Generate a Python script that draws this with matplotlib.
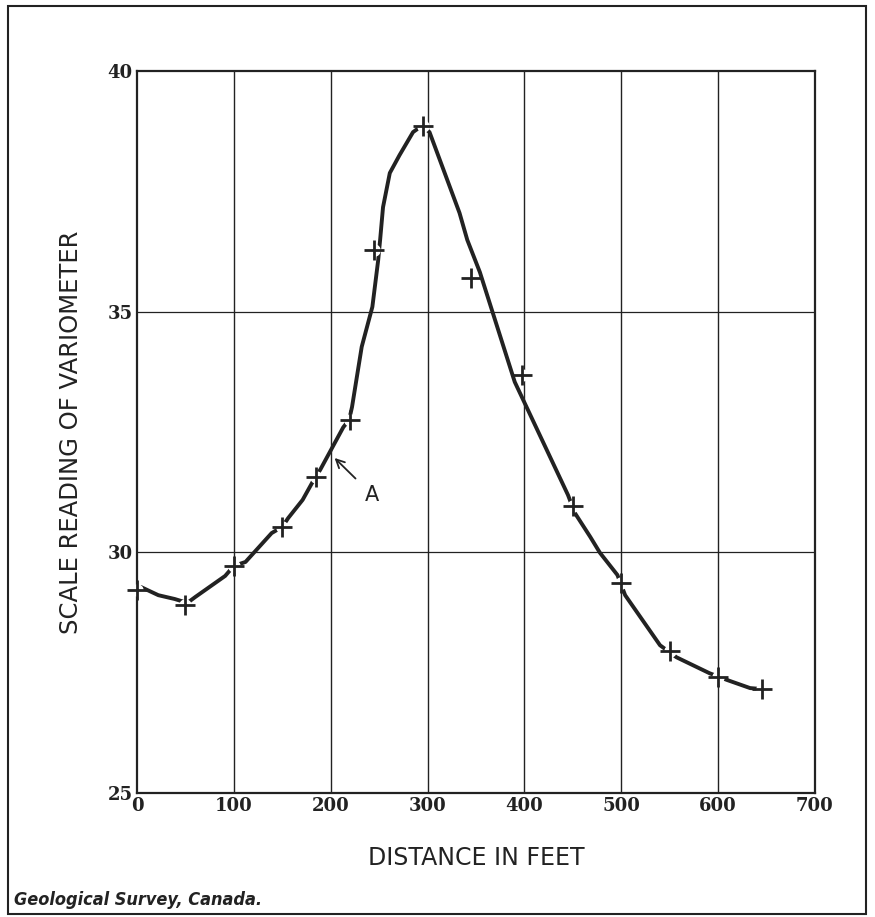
import matplotlib.pyplot as plt
from matplotlib.patches import Rectangle

# observed stations (crosses)
dist = [0, 50, 100, 150, 185, 220, 245, 295, 345, 397, 450, 500, 550, 600, 645]
reading = [29.22, 28.9, 29.72, 30.53, 31.56, 32.75, 36.28, 38.86, 35.7, 33.68,
           30.96, 29.36, 27.95, 27.41, 27.16]

# hand-drawn curve
curve_x = [4, 22, 39, 52, 60, 91, 100, 112, 139, 150, 156, 171, 184, 189,
           213, 219, 222, 232, 243, 249, 251, 254, 261, 271, 285, 294, 302,
           333, 341, 354, 387, 390, 445, 452, 468, 478, 496, 504, 540, 557,
           591, 609, 633, 645]
curve_y = [29.28, 29.11, 29.03, 28.95, 29.07, 29.51, 29.72, 29.8, 30.4,
           30.53, 30.71, 31.09, 31.56, 31.71, 32.6, 32.75, 33.02, 34.27, 35.1,
           36.07, 36.49, 37.17, 37.88, 38.25, 38.73, 38.86, 38.73, 37.05,
           36.49, 35.82, 33.73, 33.54, 31.19, 30.82, 30.32, 29.99, 29.53,
           29.11, 28.07, 27.82, 27.49, 27.35, 27.18, 27.16]

xticks = [0, 100, 200, 300, 400, 500, 600, 700]
yticks = [25, 30, 35, 40]

ink = '#222222'

fig = plt.figure(figsize=(8.75, 9.17), dpi=100)
ax = fig.add_axes([0.1566, 0.1352, 0.7748, 0.7874])

ax.set_xlim(0, 700)
ax.set_ylim(25, 40)
ax.set_xticks(xticks)
ax.set_yticks(yticks)
ax.tick_params(length=0, pad=3)
for lab in ax.get_xticklabels() + ax.get_yticklabels():
    lab.set_fontfamily('DejaVu Serif')
    lab.set_fontweight('bold')
    lab.set_fontsize(13)
    lab.set_color(ink)

for xv in xticks[1:-1]:
    ax.axvline(xv, color=ink, lw=1.0, zorder=0.5)
for yv in yticks[1:-1]:
    ax.axhline(yv, color=ink, lw=0.9, zorder=0.5)
for s in ax.spines.values():
    s.set_color(ink)
    s.set_linewidth(1.6)

ax.plot(curve_x, curve_y, color=ink, lw=2.8, solid_capstyle='round',
        solid_joinstyle='round', zorder=2, clip_on=False)
ax.plot(dist, reading, 'o', ms=8, color='white', mec='white', zorder=3,
        clip_on=False)
ax.plot(dist, reading, '+', ms=15, mew=2.0, color=ink, zorder=4, clip_on=False)

ax.annotate('A', xy=(204, 31.96), xytext=(243, 31.19), fontsize=15,
            color=ink, ha='center', va='center',
            arrowprops=dict(arrowstyle='->', color=ink, lw=1.3,
                            shrinkA=7, shrinkB=0))

ax.set_xlabel('DISTANCE IN FEET', fontsize=17, color=ink, labelpad=22)
ax.set_ylabel('SCALE READING OF VARIOMETER', fontsize=17.5, color=ink,
              labelpad=18)

fig.text(0.016, 0.013, 'Geological Survey, Canada.', fontsize=13,
         fontweight='bold', fontstyle='italic', fontstretch='condensed',
         color=ink)

fig.patches.append(Rectangle((0.009, 0.003), 0.981, 0.991, fill=False,
                             edgecolor=ink, lw=1.5, transform=fig.transFigure))

fig.savefig('out.png', dpi=100)
